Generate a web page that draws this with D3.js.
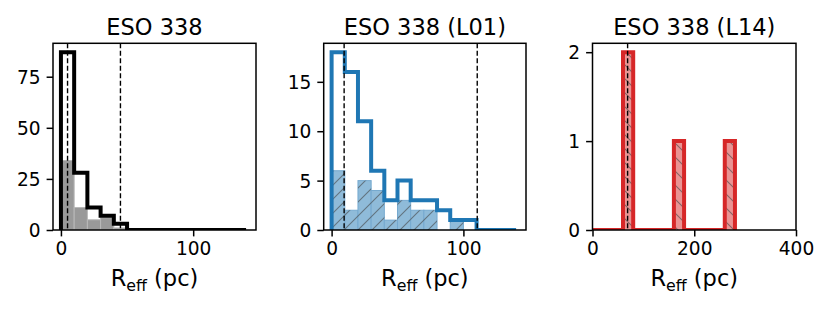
<!DOCTYPE html>
<html>
<head>
<meta charset="utf-8">
<script src="https://cdn.jsdelivr.net/npm/d3@7"></script>
<style>
  body { margin: 0; background: #fff; }
  svg { display: block; font-family: "DejaVu Sans", sans-serif; }
</style>
</head>
<body>
<div id="chart"></div>
<script>
// bin edges (pc)
const edgesA = [0, 10, 20, 30, 40, 50, 60, 70, 80, 90, 100, 110, 120, 130, 140];
const edgesL14 = [0, 20, 40, 60, 80, 100, 120, 140, 160, 180, 200, 220, 240, 260, 280];

// counts per bin
const esoAll = [87, 28, 11, 7, 3, 0, 0, 0, 0, 0, 0, 0, 0, 0];
const esoSub = [34, 11, 5, 6, 1, 0, 0, 0, 0, 0, 0, 0, 0, 0];
const l01All = [18, 16, 11, 6, 3, 5, 3, 3, 2, 1, 1, 0, 0, 0];
const l01Sub = [6, 2, 5, 4, 1, 3, 2, 2, 0, 1, 0, 0, 0, 0];
const l14All = [0, 0, 0, 2, 0, 0, 0, 0, 1, 0, 0, 0, 0, 1];
const l14Sub = [0, 0, 0, 2, 0, 0, 0, 0, 1, 0, 0, 0, 0, 1];

// dashed reference lines
const esoLines = [5, 45];
const l01Lines = [9.5, 110.5];
const l14Lines = [69];

const titles = ["ESO 338", "ESO 338 (L01)", "ESO 338 (L14)"];
const xTicksA = [0, 100];
const xTicksL14 = [0, 200, 400];
const yTicksEso = [0, 25, 50, 75];
const yTicksL01 = [0, 5, 10, 15];
const yTicksL14 = [0, 1, 2];

const W = 830, H = 312;
const axTop = 43.3, axBottom = 230;
const fs = 18.6;
const labelFs = 22.5;

const panels = [
  { title: titles[0], left: 53, right: 256, xDom: [-6, 147.5], edges: edgesA,
    all: esoAll, sub: esoSub, lines: esoLines, xTicks: xTicksA, yTicks: yTicksEso,
    color: "#000", fill: "#999999", fillStroke: "#b8b8b8", hatch: null },
  { title: titles[1], left: 323.7, right: 526, xDom: [-6, 147.5], edges: edgesA,
    all: l01All, sub: l01Sub, lines: l01Lines, xTicks: xTicksA, yTicks: yTicksL01,
    color: "#1f77b4", fill: "#8fbbd9", fillStroke: "#75a9cf", hatch: "fwd" },
  { title: titles[2], left: 592.5, right: 796, xDom: [0, 400], edges: edgesL14,
    all: l14All, sub: l14Sub, lines: l14Lines, xTicks: xTicksL14, yTicks: yTicksL14,
    color: "#d62728", fill: "#ea9393", fillStroke: "#f0b0b0", hatch: "back" }
];

const svg = d3.select("#chart").append("svg")
  .attr("width", W).attr("height", H);

const defs = svg.append("defs");
const s = 14;
defs.append("pattern").attr("id", "hatch-fwd")
  .attr("patternUnits", "userSpaceOnUse").attr("width", s).attr("height", s)
  .append("path")
  .attr("d", `M-1,1 l2,-2 M0,${s} l${s},-${s} M${s - 1},${s + 1} l2,-2`)
  .attr("stroke", "#444").attr("stroke-opacity", 0.6).attr("stroke-width", 1.1);
defs.append("pattern").attr("id", "hatch-back")
  .attr("patternUnits", "userSpaceOnUse").attr("width", s).attr("height", s)
  .append("path")
  .attr("d", `M-1,-1 l2,2 M0,0 l${s},${s} M${s - 1},-1 l2,2 M-1,${s - 1} l2,2`)
  .attr("stroke", "#444").attr("stroke-opacity", 0.6).attr("stroke-width", 1.1);

panels.forEach((p, pi) => {
  const x = d3.scaleLinear().domain(p.xDom).range([p.left, p.right]);
  const y = d3.scaleLinear().domain([0, d3.max(p.all) * 1.05]).range([axBottom, axTop]);

  const clipId = `clip${pi}`;
  defs.append("clipPath").attr("id", clipId)
    .append("rect")
    .attr("x", p.left).attr("y", axTop)
    .attr("width", p.right - p.left).attr("height", axBottom - axTop);

  const g = svg.append("g");
  const plot = g.append("g").attr("clip-path", `url(#${clipId})`);

  const bins = p.sub.map((c, i) => ({ x0: p.edges[i], x1: p.edges[i + 1], c }))
    .filter(d => d.c > 0);

  plot.selectAll(".bar").data(bins).join("rect")
    .attr("class", "bar")
    .attr("x", d => x(d.x0)).attr("width", d => x(d.x1) - x(d.x0))
    .attr("y", d => y(d.c)).attr("height", d => y(0) - y(d.c))
    .attr("fill", p.fill)
    .attr("stroke", p.fillStroke).attr("stroke-width", 1);

  if (p.hatch) {
    plot.selectAll(".hatch").data(bins).join("rect")
      .attr("class", "hatch")
      .attr("x", d => x(d.x0)).attr("width", d => x(d.x1) - x(d.x0))
      .attr("y", d => y(d.c)).attr("height", d => y(0) - y(d.c))
      .attr("fill", `url(#hatch-${p.hatch})`);
  }

  // step outline
  const pts = [[p.edges[0], 0]];
  p.all.forEach((c, i) => {
    pts.push([p.edges[i], c]);
    pts.push([p.edges[i + 1], c]);
  });
  pts.push([p.edges[p.edges.length - 1], 0]);
  plot.append("path")
    .attr("d", d3.line().x(d => x(d[0])).y(d => y(d[1]))(pts))
    .attr("fill", "none")
    .attr("stroke", p.color).attr("stroke-width", 4)
    .attr("stroke-linejoin", "miter");

  // dashed lines
  plot.selectAll(".vline").data(p.lines).join("line")
    .attr("class", "vline")
    .attr("x1", d => x(d)).attr("x2", d => x(d))
    .attr("y1", axTop).attr("y2", axBottom)
    .attr("stroke", "#000").attr("stroke-width", 1.4)
    .attr("stroke-dasharray", "5,2.5");

  // axes
  const xAxis = g.append("g").attr("transform", `translate(0,${axBottom})`)
    .call(d3.axisBottom(x).tickValues(p.xTicks).tickFormat(d3.format("d"))
      .tickSize(6.4).tickPadding(5));
  const yAxis = g.append("g").attr("transform", `translate(${p.left},0)`)
    .call(d3.axisLeft(y).tickValues(p.yTicks).tickFormat(d3.format("d"))
      .tickSize(6.4).tickPadding(6));
  [xAxis, yAxis].forEach(a => {
    a.select(".domain").remove();
    a.selectAll(".tick line").attr("stroke", "#000").attr("stroke-width", 1.5);
    a.selectAll(".tick text")
      .attr("fill", "#000")
      .style("font-size", fs + "px")
      .style("font-family", "'DejaVu Sans', sans-serif");
  });
  xAxis.selectAll(".tick text").attr("dy", "0.71em");
  yAxis.selectAll(".tick text").attr("dy", "0.36em");

  // spines
  g.append("rect")
    .attr("x", p.left).attr("y", axTop)
    .attr("width", p.right - p.left).attr("height", axBottom - axTop)
    .attr("fill", "none").attr("stroke", "#000").attr("stroke-width", 1.5);

  // title
  g.append("text")
    .attr("x", (p.left + p.right) / 2).attr("y", 35)
    .attr("text-anchor", "middle")
    .style("font-size", labelFs + "px")
    .text(p.title);

  // x label
  const xl = g.append("text")
    .attr("x", (p.left + p.right) / 2).attr("y", 286)
    .attr("text-anchor", "middle")
    .style("font-size", labelFs + "px");
  xl.append("tspan").text("R");
  xl.append("tspan").attr("dy", 4.5).style("font-size", "15.8px").text("eff");
  xl.append("tspan").attr("dy", -4.5).text(" (pc)");
});
</script>
</body>
</html>
